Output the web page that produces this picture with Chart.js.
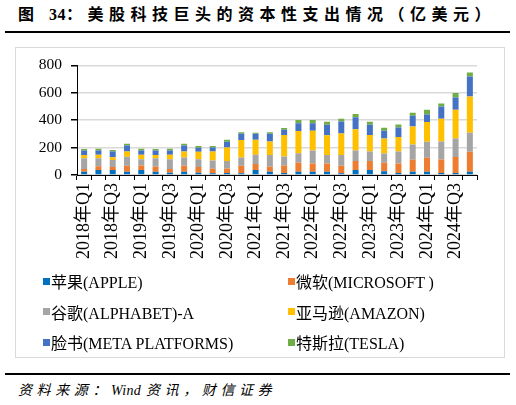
<!DOCTYPE html>
<html>
<head>
<meta charset="utf-8">
<script src="https://cdn.jsdelivr.net/npm/chart.js@4.4.1/dist/chart.umd.min.js"></script>
<style>
  body { margin: 0; width: 516px; height: 405px; background: #fff; position: relative; overflow: hidden;
         font-family: "Liberation Serif", "Noto Sans CJK SC", serif; color: #000; }
  .title { position: absolute; left: 18px; top: 4px; font-size: 16px; line-height: 22px; font-weight: bold;
           letter-spacing: 5.5px; white-space: nowrap; }
  .title .num { letter-spacing: 0.5px; }
  .rule { position: absolute; left: 5px; width: 505px; background: #000; }
  .box { position: absolute; left: 15px; top: 47px; width: 488px; height: 309px; border: 1px solid #d9d9d9; }
  #chartCanvas { position: absolute; left: 15px; top: 47px; }
  #legend { position: absolute; left: 43px; top: 266px; display: grid; grid-template-columns: 245px 210px;
            grid-auto-rows: 30.5px; font-size: 16px; }
  #legend .item { display: flex; align-items: center; white-space: nowrap; }
  #legend .sw { width: 7px; height: 7px; margin-right: 1px; }
  .source { position: absolute; left: 18px; top: 381px; font-size: 14px; line-height: 20px; font-style: italic;
            letter-spacing: 4.6px; white-space: nowrap; }
  .source .en { letter-spacing: 0.3px; margin-right: 5px; }
</style>
</head>
<body>
<div class="title">图 <span class="num">34</span>：美股科技巨头的资本性支出情况（亿美元）</div>
<div class="rule" style="top:31px;height:2px;"></div>
<div class="box"></div>
<canvas id="chartCanvas" width="489" height="221"></canvas>
<div id="legend"></div>
<div class="rule" style="top:373px;height:1.5px;"></div>
<div class="source">资料来源：<span class="en">Wind</span>资讯，财信证券</div>
<script>
// quarters 2018Q1 .. 2024Q4
const quarters = [
  '2018年Q1', '2018年Q2', '2018年Q3', '2018年Q4',
  '2019年Q1', '2019年Q2', '2019年Q3', '2019年Q4',
  '2020年Q1', '2020年Q2', '2020年Q3', '2020年Q4',
  '2021年Q1', '2021年Q2', '2021年Q3', '2021年Q4',
  '2022年Q1', '2022年Q2', '2022年Q3', '2022年Q4',
  '2023年Q1', '2023年Q2', '2023年Q3', '2023年Q4',
  '2024年Q1', '2024年Q2', '2024年Q3', '2024年Q4'
];

// capex, 亿美元
const apple     = [24, 37, 37, 24, 37, 24, 17, 24, 17, 12, 15, 12, 37, 24, 15, 24, 24, 24, 12, 37, 37, 27, 15, 24, 24, 15, 15, 24];
const microsoft = [20, 27, 22, 44, 32, 37, 27, 44, 41, 34, 32, 56, 44, 37, 54, 66, 59, 59, 56, 66, 66, 63, 68, 88, 102, 98, 117, 146];
const alphabet  = [78, 59, 51, 66, 46, 61, 71, 59, 56, 59, 56, 59, 66, 85, 66, 68, 95, 63, 78, 76, 68, 66, 88, 110, 117, 132, 134, 139];
const amazon    = [24, 24, 20, 37, 32, 24, 32, 44, 56, 66, 98, 129, 110, 98, 156, 163, 144, 144, 156, 154, 120, 110, 107, 132, 144, 166, 210, 264];
const meta      = [32, 32, 41, 44, 32, 32, 32, 44, 29, 29, 41, 44, 44, 56, 39, 56, 56, 76, 88, 88, 76, 56, 68, 78, 54, 88, 90, 146];
const tesla     = [12, 12, 12, 12, 12, 12, 12, 12, 12, 12, 15, 12, 7, 12, 12, 24, 24, 22, 20, 24, 22, 22, 22, 22, 34, 22, 32, 29];

const seriesNames = ['苹果(APPLE)', '微软(MICROSOFT )', '谷歌(ALPHABET)-A', '亚马逊(AMAZON)', '脸书(META PLATFORMS)', '特斯拉(TESLA)'];
const seriesColors = ['#0070C0', '#ED7D31', '#A5A5A5', '#FFC000', '#4472C4', '#70AD47'];
const seriesData = [apple, microsoft, alphabet, amazon, meta, tesla];

const yTicks = { min: 0, max: 800, step: 200 };

const fontFamily = '"Liberation Serif", "Noto Sans CJK SC", serif';

const chart = new Chart(document.getElementById('chartCanvas'), {
  type: 'bar',
  data: {
    labels: quarters,
    datasets: seriesData.map((d, i) => ({
      label: seriesNames[i],
      data: d,
      backgroundColor: seriesColors[i],
      borderWidth: 0
    }))
  },
  options: {
    responsive: false,
    animation: false,
    layout: { padding: { top: 17, right: 27, left: 0, bottom: 0 } },
    datasets: { bar: { categoryPercentage: 1, barPercentage: 0.42 } },
    plugins: { legend: { display: false }, tooltip: { enabled: false } },
    scales: {
      x: {
        stacked: true,
        grid: { display: true, drawOnChartArea: false, offset: true, color: '#000', tickLength: 5 },
        border: { color: '#000', width: 1 },
        ticks: {
          autoSkip: false, maxRotation: 90, minRotation: 90, padding: 3, color: '#000',
          font: { family: fontFamily, size: 18 },
          callback: function (v, i) { return i % 2 === 0 ? this.getLabelForValue(v) : ''; }
        },
        afterFit: (s) => { s.height = 93; }
      },
      y: {
        stacked: true,
        min: yTicks.min, max: yTicks.max,
        ticks: { stepSize: yTicks.step, padding: 9, color: '#000', font: { family: fontFamily, size: 15.5 } },
        grid: { color: '#d9d9d9', lineWidth: 1.5, tickColor: '#000', tickLength: 6 },
        border: { color: '#000', width: 1 },
        afterFit: (s) => { s.width = 62; }
      }
    }
  }
});

// two-column legend built from the chart's datasets
const legendEl = document.getElementById('legend');
chart.data.datasets.forEach(ds => {
  const item = document.createElement('div');
  item.className = 'item';
  item.innerHTML = `<span class="sw" style="background:${ds.backgroundColor}"></span><span>${ds.label}</span>`;
  legendEl.appendChild(item);
});
</script>
</body>
</html>
